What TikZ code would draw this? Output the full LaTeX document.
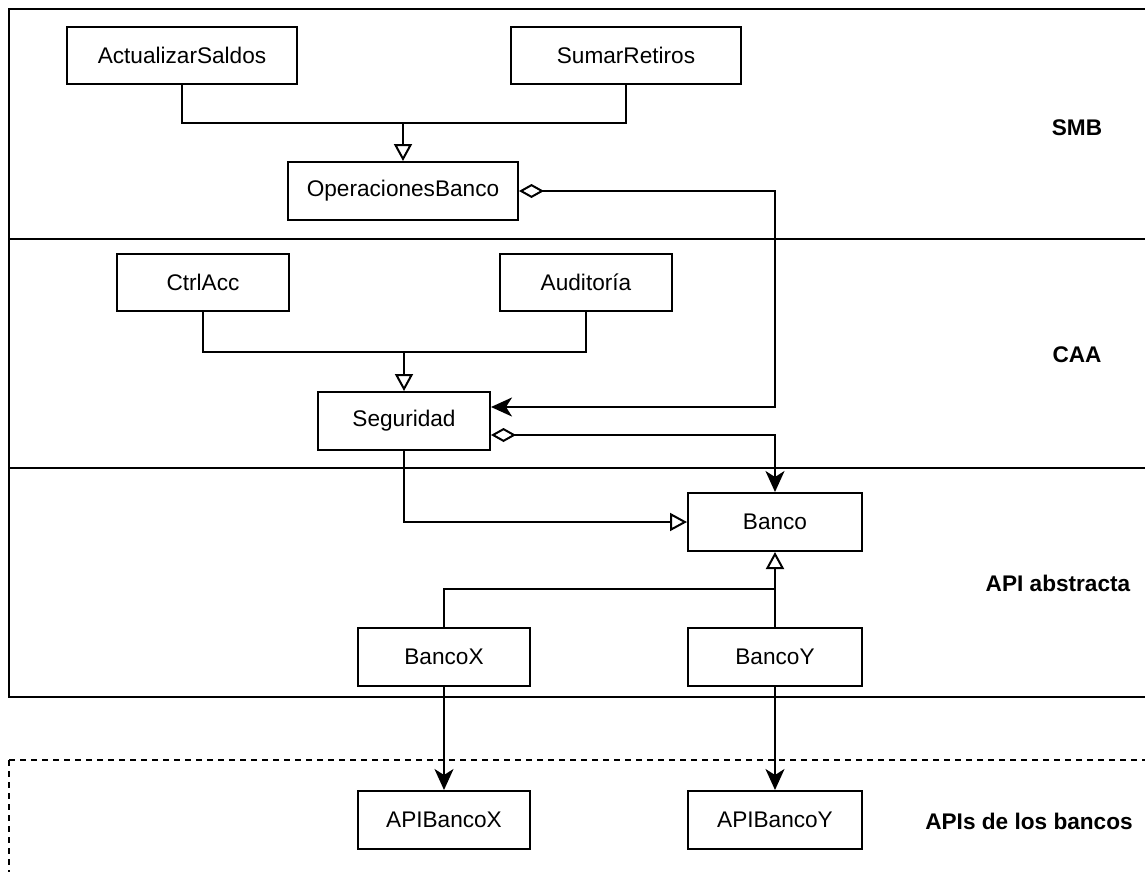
\documentclass[tikz,border=0pt]{standalone}
\usepackage{fontspec}
\setmainfont{Liberation Sans}
\usetikzlibrary{arrows.meta,calc}

\tikzset{
  cls/.style={draw, line width=2bp, fill=white, inner sep=0pt,
              minimum width=#1, minimum height=57bp,
              font=\fontsize{22.7}{27}\selectfont},
  cls/.default=172bp,
  layerlabel/.style={font=\fontsize{22.7}{27}\selectfont\bfseries, inner sep=0pt},
  lane/.style={draw, line width=2bp},
  conn/.style={draw, line width=2bp},
  gen/.style={conn, -{Triangle[open, length=17bp, width=18bp, line width=2bp]}},
  nav/.style={conn, -{Stealth[length=21bp, width=19bp, inset=6bp]}},
  aggnav/.style={conn, {Diamond[open, length=25bp, width=14bp, line width=2bp]}-{Stealth[length=21bp, width=19bp, inset=6bp]}},
}

\begin{document}
\begin{tikzpicture}[x=1bp, y=-1bp]
  \useasboundingbox (0,0) rectangle (1145,872);
  \clip (0,0) rectangle (1145,872);

  % layers
  \draw[lane] (9,9) rectangle (1170,239);
  \draw[lane] (9,239) rectangle (1170,468);
  \draw[lane] (9,468) rectangle (1170,697);
  \draw[lane, dash pattern=on 6bp off 5bp] (9,760) rectangle (1170,900);

  \node[layerlabel] (lSMB) at (1077,128) {SMB};
  \node[layerlabel] (lCAA) at (1077,355) {CAA};
  \node[layerlabel] (lAPI) at (1058,583) {API abstracta};
  \node[layerlabel] (lBancos) at (1029,821) {APIs de los bancos};

  % classes
  \node[cls=230bp] (aS) at (182,55.5) {ActualizarSaldos};
  \node[cls=230bp] (sR) at (626,55.5) {SumarRetiros};
  \node[cls=230bp, minimum height=58bp] (oB) at (403,191) {OperacionesBanco};
  \node[cls] (ctrl) at (203,282.5) {CtrlAcc};
  \node[cls] (aud) at (586,282.5) {Auditoría};
  \node[cls, minimum height=58bp] (seg) at (404,421) {Seguridad};
  \node[cls=174bp, minimum height=58bp] (banco) at (775,522) {Banco};
  \node[cls, minimum height=58bp] (bX) at (444,657) {BancoX};
  \node[cls=174bp, minimum height=58bp] (bY) at (775,657) {BancoY};
  \node[cls, minimum height=58bp] (apiX) at (444,820) {APIBancoX};
  \node[cls=174bp, minimum height=58bp] (apiY) at (775,820) {APIBancoY};

  % junction points
  \coordinate (j1) at (403,123);
  \coordinate (j2) at (404,352);
  \coordinate (j3) at (775,589);
  \coordinate (c1) at (775,407);

  % generalizations
  \draw[conn] (aS.south) |- (j1);
  \draw[conn] (sR.south) |- (j1);
  \draw[gen] (j1) -- (oB.north);

  \draw[conn] (ctrl.south) |- (j2);
  \draw[conn] (aud.south) |- (j2);
  \draw[gen] (j2) -- (seg.north);

  \draw[gen] (seg.south) |- (banco.west);

  \draw[conn] (bX.north) |- (j3);
  \draw[gen] (bY.north) -- (banco.south);

  % aggregations
  \draw[aggnav] (oB.east) -| (c1) -- (c1 -| seg.east);
  \draw[aggnav] ($(seg.east)+(0,14)$) -| (banco.north);

  % implementations
  \draw[nav] (bX.south) -- (apiX.north);
  \draw[nav] (bY.south) -- (apiY.north);
\end{tikzpicture}
\end{document}
